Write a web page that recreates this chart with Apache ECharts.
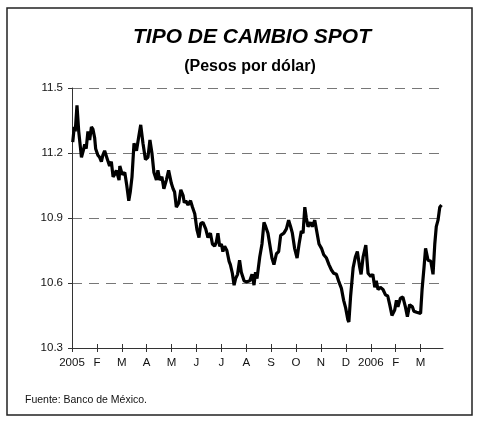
<!DOCTYPE html>
<html>
<head>
<meta charset="utf-8">
<script src="https://cdn.jsdelivr.net/npm/echarts@6/dist/echarts.min.js"></script>
<style>
  html, body { margin: 0; padding: 0; background: #fff; }
  #chart { width: 477px; height: 423px; }
</style>
</head>
<body>
<div id="chart"></div>
<script>
// eje x: meses desde enero 2005 (fraccion de mes)
const mesLabels = ['2005', 'F', 'M', 'A', 'M', 'J', 'J', 'A', 'S', 'O', 'N', 'D', '2006', 'F', 'M'];
const yTicks = [10.3, 10.6, 10.9, 11.2, 11.5];

const mes = [
  0.03, 0.09, 0.13, 0.20, 0.27, 0.38, 0.45, 0.51, 0.57, 0.64, 0.71, 0.78, 0.84, 0.91, 0.95,
  1.04, 1.11, 1.18, 1.24, 1.31, 1.41, 1.51, 1.58, 1.65, 1.71, 1.78, 1.89, 1.92,
  2.02, 2.12, 2.20, 2.28, 2.34, 2.41, 2.49, 2.59, 2.68, 2.76, 2.85, 2.95,
  3.05, 3.13, 3.21, 3.29, 3.39, 3.45, 3.52, 3.61, 3.69, 3.79, 3.88, 3.99,
  4.06, 4.12, 4.19, 4.29, 4.37, 4.46, 4.51, 4.57, 4.66, 4.76, 4.84, 4.93,
  5.02, 5.10, 5.17, 5.26, 5.37, 5.46, 5.56, 5.64, 5.73, 5.80, 5.86, 5.93,
  6.00, 6.06, 6.13, 6.22, 6.31, 6.36, 6.44, 6.51, 6.57, 6.65, 6.73, 6.80, 6.91,
  7.00, 7.08, 7.14, 7.23, 7.31, 7.37, 7.43, 7.54, 7.63, 7.71, 7.78, 7.87, 7.94,
  8.03, 8.11, 8.21, 8.30, 8.38, 8.51, 8.61, 8.70, 8.78, 8.85, 8.94,
  9.04, 9.12, 9.21, 9.28, 9.35, 9.41, 9.48, 9.57, 9.65, 9.75, 9.82, 9.92,
  10.02, 10.11, 10.22, 10.32, 10.42, 10.51, 10.62, 10.72, 10.82, 10.91, 10.99,
  11.08, 11.12, 11.19, 11.29, 11.38, 11.46, 11.55, 11.61, 11.69, 11.80, 11.89,
  12.00, 12.08, 12.16, 12.22, 12.29, 12.38, 12.49, 12.59, 12.68, 12.76, 12.85, 12.96,
  13.03, 13.09, 13.19, 13.29, 13.39, 13.47, 13.56, 13.67, 13.73, 13.84, 13.92,
  14.00, 14.06, 14.14, 14.20, 14.30, 14.41, 14.50, 14.57, 14.63, 14.70, 14.77, 14.84
];

const tipoCambio = [
  11.25, 11.32, 11.30, 11.42, 11.30, 11.18, 11.21, 11.24, 11.22, 11.30, 11.26, 11.32, 11.31, 11.27, 11.22,
  11.19, 11.18, 11.16, 11.19, 11.21, 11.175, 11.14, 11.16, 11.09, 11.10, 11.12, 11.075, 11.14,
  11.10, 11.11, 11.05, 10.98, 11.02, 11.09, 11.245, 11.21, 11.275, 11.33, 11.245, 11.17,
  11.18, 11.26, 11.20, 11.11, 11.075, 11.12, 11.075, 11.09, 11.035, 11.075, 11.12, 11.06,
  11.035, 11.02, 10.95, 10.97, 11.03, 11.005, 10.97, 10.98, 10.96, 10.98, 10.95, 10.92,
  10.845, 10.81, 10.875, 10.88, 10.85, 10.81, 10.83, 10.78, 10.77, 10.79, 10.83, 10.77,
  10.78, 10.745, 10.77, 10.75, 10.70, 10.685, 10.645, 10.59, 10.62, 10.64, 10.705, 10.65, 10.61,
  10.605, 10.60, 10.61, 10.64, 10.59, 10.65, 10.62, 10.72, 10.78, 10.88, 10.86, 10.83, 10.78,
  10.715, 10.685, 10.735, 10.745, 10.82, 10.83, 10.85, 10.89, 10.86, 10.83, 10.76,
  10.715, 10.78, 10.84, 10.83, 10.95, 10.90, 10.86, 10.88, 10.86, 10.89, 10.845, 10.78,
  10.76, 10.73, 10.715, 10.685, 10.66, 10.645, 10.64, 10.605, 10.575, 10.52, 10.485,
  10.43, 10.42, 10.54, 10.67, 10.72, 10.745, 10.675, 10.64, 10.72, 10.775, 10.645,
  10.63, 10.64, 10.58, 10.61, 10.57, 10.58, 10.57, 10.545, 10.54, 10.50, 10.45, 10.475,
  10.52, 10.49, 10.53, 10.535, 10.49, 10.445, 10.50, 10.49, 10.47, 10.465, 10.47,
  10.46, 10.57, 10.675, 10.76, 10.705, 10.70, 10.64, 10.78, 10.86, 10.89, 10.95, 10.96
];

const chart = echarts.init(document.getElementById('chart'), null, { renderer: 'canvas' });
const font = '"Liberation Sans", Arial, sans-serif';
const monthTicks = mesLabels.map((_, i) => i);

chart.setOption({
  animation: false,
  backgroundColor: '#fff',
  textStyle: { fontFamily: font },
  graphic: [
    {
      type: 'rect',
      shape: { x: 7, y: 8, width: 465, height: 407 },
      style: { fill: 'none', stroke: '#222', lineWidth: 1.5 },
      silent: true
    },
    {
      type: 'text',
      left: 25, top: 395,
      style: { text: 'Fuente: Banco de México.', font: '10.5px ' + font, fill: '#111' }
    }
  ],
  title: [
    {
      text: 'TIPO DE CAMBIO SPOT',
      left: 247, top: 22, textAlign: 'center',
      textStyle: { fontSize: 21, fontStyle: 'italic', fontWeight: 'bold', color: '#000', fontFamily: font }
    },
    {
      text: '(Pesos por dólar)',
      left: 245, top: 54, textAlign: 'center',
      textStyle: { fontSize: 16, fontWeight: 'bold', color: '#000', fontFamily: font }
    }
  ],
  grid: { left: 72, right: 34, top: 88, bottom: 75 },
  xAxis: [
    {
      type: 'value',
      min: 0, max: 14.9,
      interval: 1,
      axisLine: { lineStyle: { color: '#333', width: 1 } },
      axisTick: { customValues: monthTicks, length: 4, lineStyle: { color: '#333' } },
      axisLabel: {
        customValues: monthTicks,
        margin: 9,
        fontSize: 11.5,
        color: '#111',
        formatter: v => mesLabels[Math.round(v)] || ''
      },
      splitLine: { show: false }
    },
    {
      type: 'value',
      position: 'bottom',
      min: 0, max: 14.9,
      interval: 1,
      axisLine: { show: false },
      axisTick: { customValues: monthTicks, inside: true, length: 4, lineStyle: { color: '#333' } },
      axisLabel: { show: false },
      splitLine: { show: false }
    }
  ],
  yAxis: {
    type: 'value',
    min: 10.3, max: 11.5,
    axisLine: { show: true, lineStyle: { color: '#333', width: 1 } },
    axisTick: { show: true, customValues: yTicks, length: 4, lineStyle: { color: '#333' } },
    axisLabel: {
      customValues: yTicks,
      margin: 9,
      fontSize: 11.5,
      color: '#111',
      formatter: v => v.toFixed(1)
    },
    splitLine: {
      show: true,
      lineStyle: { color: '#777', type: [10, 7], width: 1 }
    }
  },
  series: [
    {
      type: 'line',
      data: mes.map((m, i) => [m, tipoCambio[i]]),
      showSymbol: false,
      lineStyle: { color: '#000', width: 3.2 },
      z: 5
    }
  ]
});
</script>
</body>
</html>
